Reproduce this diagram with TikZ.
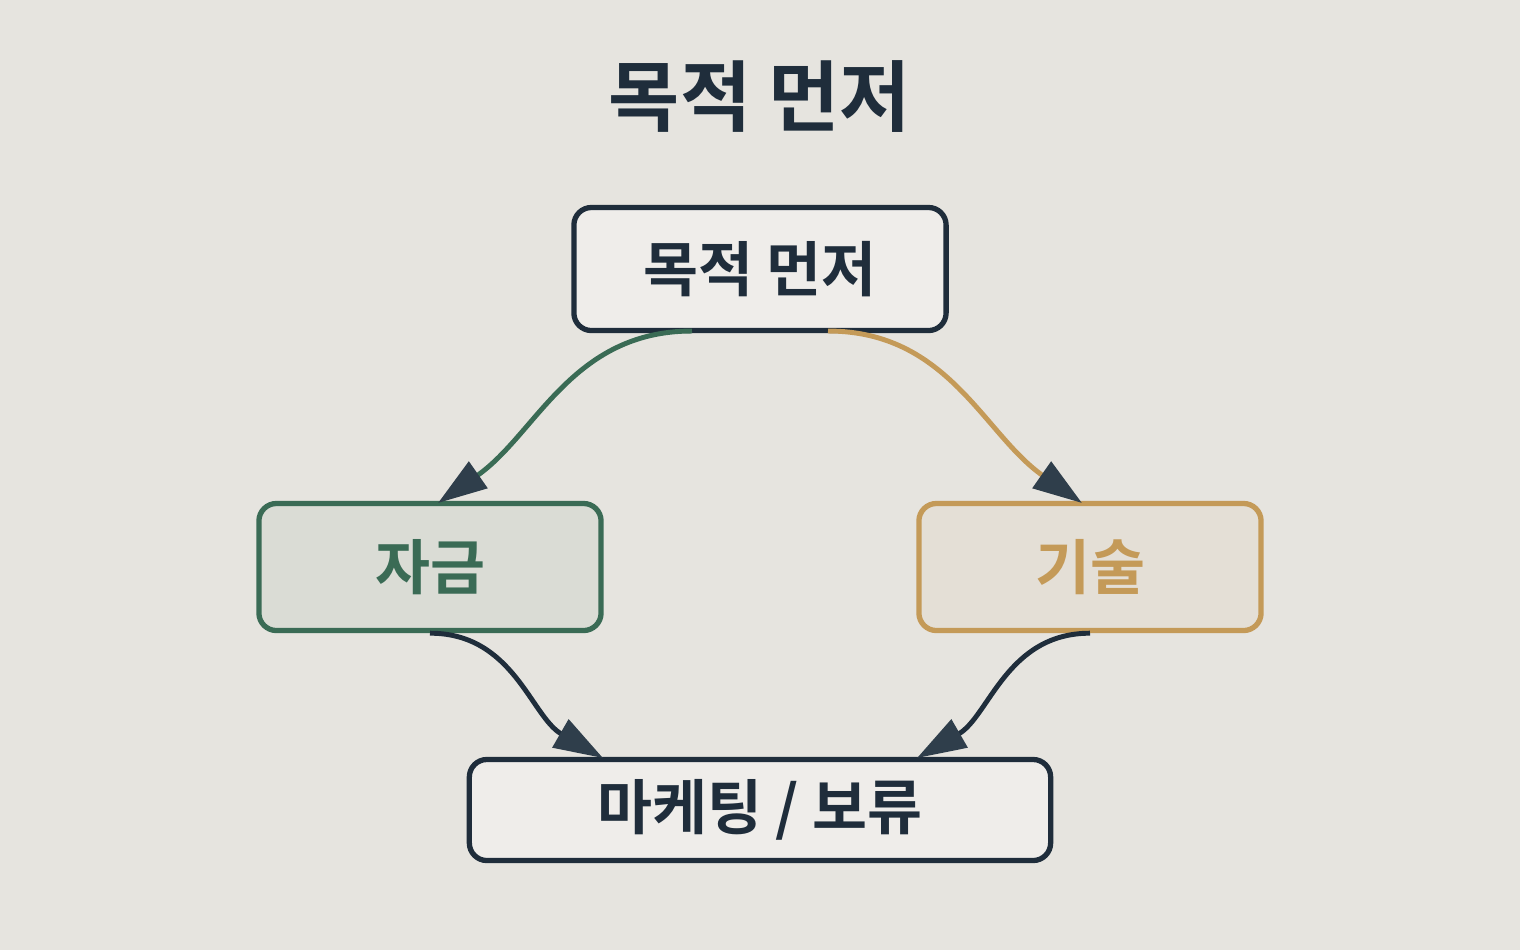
\documentclass[tikz,border=0pt]{standalone}
\usepackage{fontspec}
\newfontfamily\kr{Noto Sans CJK KR Bold}
\usetikzlibrary{arrows.meta}
\definecolor{ink}{HTML}{1F2D3B}
\definecolor{tip}{HTML}{2F3E4B}
\definecolor{moss}{HTML}{3A6B55}
\definecolor{gold}{HTML}{C49A58}
\definecolor{paper}{HTML}{E6E4DF}
\begin{document}
\begin{tikzpicture}[x=0.01cm,y=-0.01cm]
\tikzset{box style/.style={draw=ink, fill=white!35!paper, line width=1.5pt, rounded corners=5pt, font=\kr\fontsize{17}{20}\selectfont, text=ink},
         link style/.style={line width=1.4pt, -{Triangle[length=14pt,width=9pt,color=tip]}}}
\fill[paper] (0,0) rectangle (1520,950);
\useasboundingbox (0,0) rectangle (1520,950);

\node[text=ink, font=\kr\fontsize{22}{26}\selectfont] at (760,97) (title) {목적 먼저};

\node[box style, minimum width=3.72cm, minimum height=1.23cm] at (760,269) (goal) {목적 먼저};
\node[box style, draw=moss, fill=moss!7!paper, text=moss, minimum width=3.42cm, minimum height=1.27cm] at (430,567) (fund) {자금};
\node[box style, draw=gold, fill=gold!7!paper, text=gold, minimum width=3.42cm, minimum height=1.27cm] at (1090,567) (tech) {기술};
\node[box style, minimum width=5.81cm, minimum height=1.01cm] at (760,810) (market) {마케팅 / 보류};

\coordinate (goalL) at (692,331);
\coordinate (goalR) at (828,331);
\coordinate (fundT) at (438,503);
\coordinate (techT) at (1082,503);
\coordinate (mktL) at (603,758);
\coordinate (mktR) at (917,758);

\draw[link style, moss] (goalL) to[out=180,in=35] (fundT);
\draw[link style, gold] (goalR) to[out=0,in=145] (techT);
\draw[link style, ink] (fund.south) to[out=0,in=150] (mktL);
\draw[link style, ink] (tech.south) to[out=180,in=30] (mktR);
\end{tikzpicture}
\end{document}
